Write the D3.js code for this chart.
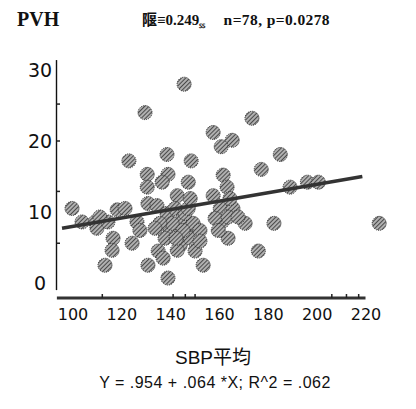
<!DOCTYPE html>
<html><head><meta charset="utf-8">
<script src="https://cdn.jsdelivr.net/npm/d3@7"></script>
<style>body{margin:0;background:#fff}svg{display:block}</style>
</head><body>
<script>
// ---- data ----
const sbp = [145.5,129.5,173.3,157.4,165.2,160.7,122.9,138.5,148.4,184.9,177.1,130.4,138.9,136.5,147.2,161.5,130.4,163.1,
  99.6,118.1,121.3,130.7,134.4,142.7,157.4,103.7,109.1,109.8,114.3,126.2,138.5,143.9,139.7,146.7,149.2,143.9,142.7,
  116.4,116.0,124.2,134.9,136.9,150.0,153.3,113.1,130.7,138.9,160.3,165.5,161.0,170.5,182.3,225.4,163.5,175.9,188.9,
  196.0,200.5,141.8,145.9,140.6,148.0,137.7,145.1,142.2,147.2,135.6,152.0,158.2,163.5,167.6,159.5,164.3,127.4,111.0,
  148.0,133.6,152.0];
const pvh = [28.0,24.0,23.2,21.2,20.1,19.2,17.2,18.1,17.2,18.1,16.0,15.3,15.3,14.2,14.2,15.2,13.5,13.5,
  10.5,10.3,10.5,11.2,10.9,12.3,12.3,8.6,8.6,7.7,8.6,8.6,9.8,8.6,7.3,6.7,8.4,5.3,4.6,
  6.3,4.6,5.6,4.5,3.5,4.5,2.5,2.5,2.5,0.7,10.5,10.5,8.6,8.4,8.4,8.4,6.3,4.5,13.5,
  14.2,14.2,10.5,9.8,8.4,6.3,6.3,7.4,6.3,10.5,8.4,7.4,9.1,9.3,9.3,7.4,11.9,7.4,9.3,
  11.9,7.7,5.9];
const fitX = [95.5, 218.5];
const fitY = [7.7, 15.0];
const xTicks = [100,120,140,160,180,200,220];
const yTicks = [0,10,20,30];
const yMinorMarks = [25.2, 20.0, 12.9, 5.6];
const xRugMarks = [112, 141, 146, 150, 206, 212, 217];
const titleText = "PVH";
const statText = "隁≡0.249";
const statSub = "ꜱꜱ";
const statText2 = "n=78, p=0.0278";
const xLabel = "SBP平均";
const eqText = "Y = .954 + .064 *X; R^2 = .062";

// ---- chart ----
const W = 416, H = 409;
const svg = d3.select("body").append("svg").attr("width", W).attr("height", H);
const x = d3.scaleLinear().domain([100, 220]).range([73, 366]);
const y = d3.scaleLinear().domain([0, 30]).range([283, 70]);

const defs = svg.append("defs");
const pat = defs.append("pattern").attr("id","hatch").attr("patternUnits","userSpaceOnUse")
  .attr("width",3).attr("height",3).attr("patternTransform","rotate(45)");
pat.append("rect").attr("width",3).attr("height",3).attr("fill","#b0b0b0");
pat.append("line").attr("x1",0).attr("y1",0).attr("x2",0).attr("y2",3)
  .attr("stroke","#1e1e1e").attr("stroke-width",1.4);

// y axis line
svg.append("line").attr("x1",56.5).attr("x2",56.5).attr("y1",y(31.4)).attr("y2",y(-1))
  .attr("stroke","#111").attr("stroke-width",1.4);
svg.selectAll(".ym").data(yMinorMarks).join("line")
  .attr("x1",56.5).attr("x2",60).attr("y1",d=>y(d)).attr("y2",d=>y(d))
  .attr("stroke","#222").attr("stroke-width",1.5);
svg.selectAll(".yl").data(yTicks).join("text")
  .attr("x",40).attr("y",d=>y(d)+7).attr("text-anchor","middle")
  .attr("font-family","DejaVu Sans, sans-serif").attr("font-size",19).attr("fill","#111")
  .text(d=>d);

// x axis line
svg.append("line").attr("x1",x(93.4)).attr("x2",x(219.8)).attr("y1",298).attr("y2",298)
  .attr("stroke","#333").attr("stroke-width",3);
svg.selectAll(".xm").data(xRugMarks).join("line")
  .attr("x1",d=>x(d)).attr("x2",d=>x(d)).attr("y1",294).attr("y2",298)
  .attr("stroke","#222").attr("stroke-width",1.5);
svg.selectAll(".xl").data(xTicks).join("text")
  .attr("x",d=>x(d)).attr("y",320).attr("text-anchor","middle")
  .attr("font-family","DejaVu Sans, sans-serif").attr("font-size",16).attr("fill","#111")
  .text(d=>d);

// points
const pts = sbp.map((v,i)=>({x:v,y:pvh[i]}));
svg.append("g").selectAll("circle").data(pts).join("circle")
  .attr("cx",d=>x(d.x)).attr("cy",d=>y(d.y)).attr("r",7)
  .attr("fill","url(#hatch)").attr("stroke","#333").attr("stroke-width",1)
  .attr("stroke-dasharray","1.2 1");

// regression line
svg.append("line").attr("x1",x(fitX[0])).attr("y1",y(fitY[0]))
  .attr("x2",x(fitX[1])).attr("y2",y(fitY[1]))
  .attr("stroke","#333").attr("stroke-width",3.5);

// title + stats
svg.append("text").attr("x",17).attr("y",26).attr("font-family","Liberation Serif, serif")
  .attr("font-weight","bold").attr("font-size",20).attr("fill","#111").text(titleText);
const st = svg.append("text").attr("x",142).attr("y",25).attr("font-family","Liberation Serif, Noto Sans CJK JP, serif")
  .attr("font-weight","bold").attr("font-size",15).attr("fill","#111");
st.append("tspan").text(statText);
st.append("tspan").attr("dy",3).attr("font-size",8).text(statSub);
svg.append("text").attr("x",330).attr("y",25).attr("text-anchor","end")
  .attr("font-family","Liberation Serif, serif").attr("font-weight","bold")
  .attr("font-size",15.5).attr("letter-spacing",0.4).attr("fill","#111").text(statText2);

// x label + equation
svg.append("text").attr("x",213).attr("y",364).attr("text-anchor","middle")
  .attr("font-family","Liberation Sans, Noto Sans CJK JP, sans-serif").attr("font-size",19).attr("fill","#111")
  .text(xLabel);
svg.append("text").attr("x",215).attr("y",388).attr("text-anchor","middle")
  .attr("font-family","Liberation Sans, sans-serif").attr("font-size",16).attr("letter-spacing",0.5).attr("fill","#111")
  .text(eqText);
</script>
</body></html>
